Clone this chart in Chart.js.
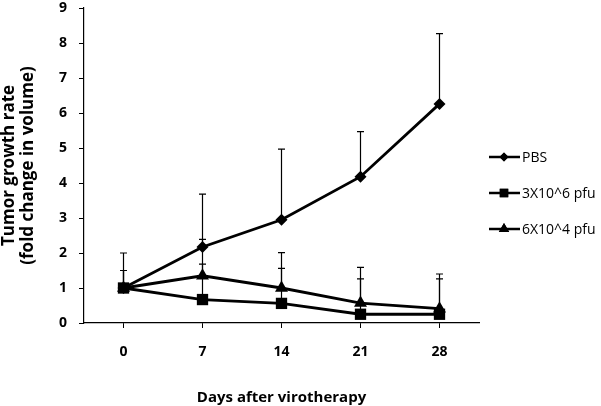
<!DOCTYPE html>
<html>
<head>
<meta charset="utf-8">
<script src="https://cdn.jsdelivr.net/npm/chart.js@4.4.0/dist/chart.umd.min.js"></script>
<style>
  html, body { margin: 0; padding: 0; background: #fff; }
  #wrap { width: 601px; height: 406px; }
</style>
</head>
<body>
<div id="wrap"><canvas id="c" width="601" height="406"></canvas></div>
<script>
// ---- data ----
const days = ['0', '7', '14', '21', '28'];
const seriesNames = ['PBS', '3X10^6 pfu', '6X10^4 pfu'];
const pbsValues = [1.0, 2.17, 2.95, 4.18, 6.26];
const pbsErrors = [1.0, 1.51, 2.02, 1.29, 2.01];
const highDoseValues = [1.0, 0.67, 0.56, 0.25, 0.25];
const highDoseErrors = [0.5, 1.01, 1.0, 1.01, 1.01];
const lowDoseValues = [1.0, 1.35, 1.0, 0.57, 0.41];
const lowDoseErrors = [0.5, 1.04, 1.01, 1.02, 0.99];
const yTicks = [0, 1, 2, 3, 4, 5, 6, 7, 8, 9];

const FONT = '"Open Sans", Lato, sans-serif';

const errorBarPlugin = {
  id: 'errorBars',
  beforeDatasetsDraw(chart) {
    const ctx = chart.ctx;
    const y = chart.scales.y;
    ctx.save();
    ctx.strokeStyle = '#000';
    ctx.lineWidth = 1.2;
    chart.data.datasets.forEach((ds, i) => {
      const meta = chart.getDatasetMeta(i);
      meta.data.forEach((pt, j) => {
        const top = y.getPixelForValue(ds.data[j] + ds.errors[j]);
        ctx.beginPath();
        ctx.moveTo(pt.x, pt.y);
        ctx.lineTo(pt.x, top);
        ctx.moveTo(pt.x - 3.5, top);
        ctx.lineTo(pt.x + 3.5, top);
        ctx.stroke();
      });
    });
    ctx.restore();
  }
};

const legendPlugin = {
  id: 'customLegend',
  afterDraw(chart) {
    const ctx = chart.ctx;
    const ys = [157, 193, 229];
    ctx.save();
    chart.data.datasets.forEach((ds, i) => {
      const yy = ys[i];
      ctx.strokeStyle = '#000';
      ctx.lineWidth = 2.5;
      ctx.beginPath();
      ctx.moveTo(489, yy);
      ctx.lineTo(520, yy);
      ctx.stroke();
      ctx.fillStyle = '#000';
      Chart.helpers.drawPoint(ctx, {
        pointStyle: ds.pointStyle,
        radius: ds.legendRadius,
        rotation: 0,
        borderWidth: 0
      }, 504, yy);
      ctx.fill();
      ctx.fillStyle = '#000';
      ctx.font = '14px ' + FONT;
      ctx.textBaseline = 'middle';
      ctx.textAlign = 'left';
      ctx.fillText(ds.label, 522, yy + 1);
    });
    ctx.restore();
  }
};

const mk = (label, data, errors, style, radius, legendRadius) => ({
  label, data, errors,
  borderColor: '#000',
  backgroundColor: '#000',
  borderWidth: 2.8,
  pointStyle: style,
  pointRadius: radius,
  pointBorderWidth: 0,
  pointBackgroundColor: '#000',
  legendRadius,
  tension: 0,
  fill: false
});

new Chart(document.getElementById('c'), {
  type: 'line',
  data: {
    labels: days,
    datasets: [
      mk(seriesNames[0], pbsValues, pbsErrors, 'rectRot', 6, 4.5),
      mk(seriesNames[1], highDoseValues, highDoseErrors, 'rect', 8, 6),
      mk(seriesNames[2], lowDoseValues, lowDoseErrors, 'triangle', 7.5, 6)
    ]
  },
  options: {
    responsive: false,
    animation: false,
    devicePixelRatio: 1,
    layout: { padding: { left: 0, right: 122, top: 4, bottom: 0 } },
    plugins: { legend: { display: false }, tooltip: { enabled: false } },
    scales: {
      x: {
        type: 'category',
        offset: true,
        grid: { display: true, drawOnChartArea: false, drawTicks: true, tickLength: 5, color: '#000', tickWidth: 1 },
        border: { display: true, color: '#000', width: 1.2 },
        ticks: { color: '#000', font: { family: FONT, size: 14, weight: 'bold' }, padding: 16, maxRotation: 0 },
        title: {
          display: true, text: 'Days after virotherapy', color: '#000',
          font: { family: FONT, size: 15, weight: 'bold', lineHeight: 1 },
          padding: { top: 0, bottom: 1 }
        },
        afterFit(s) { s.height = 83; s.paddingLeft = 0; s.paddingRight = 0; }
      },
      y: {
        min: 0, max: 9,
        afterBuildTicks(s) { s.ticks = yTicks.map(v => ({ value: v })); },
        grid: { display: true, drawOnChartArea: false, drawTicks: true, tickLength: 5, color: '#000', tickWidth: 1 },
        border: { display: true, color: '#000', width: 1.2 },
        ticks: { color: '#000', font: { family: FONT, size: 14, weight: 'bold' }, padding: 12 },
        title: {
          display: true, text: ['Tumor growth rate', '(fold change in volume)'], color: '#000',
          font: { family: FONT, size: 17, weight: 'bold', lineHeight: 1.12 },
          padding: { top: 0, bottom: 0 }
        },
        afterFit(s) { s.width = 84; s.paddingTop = 0; s.paddingBottom = 0; }
      }
    }
  },
  plugins: [errorBarPlugin, legendPlugin]
});
</script>
</body>
</html>
